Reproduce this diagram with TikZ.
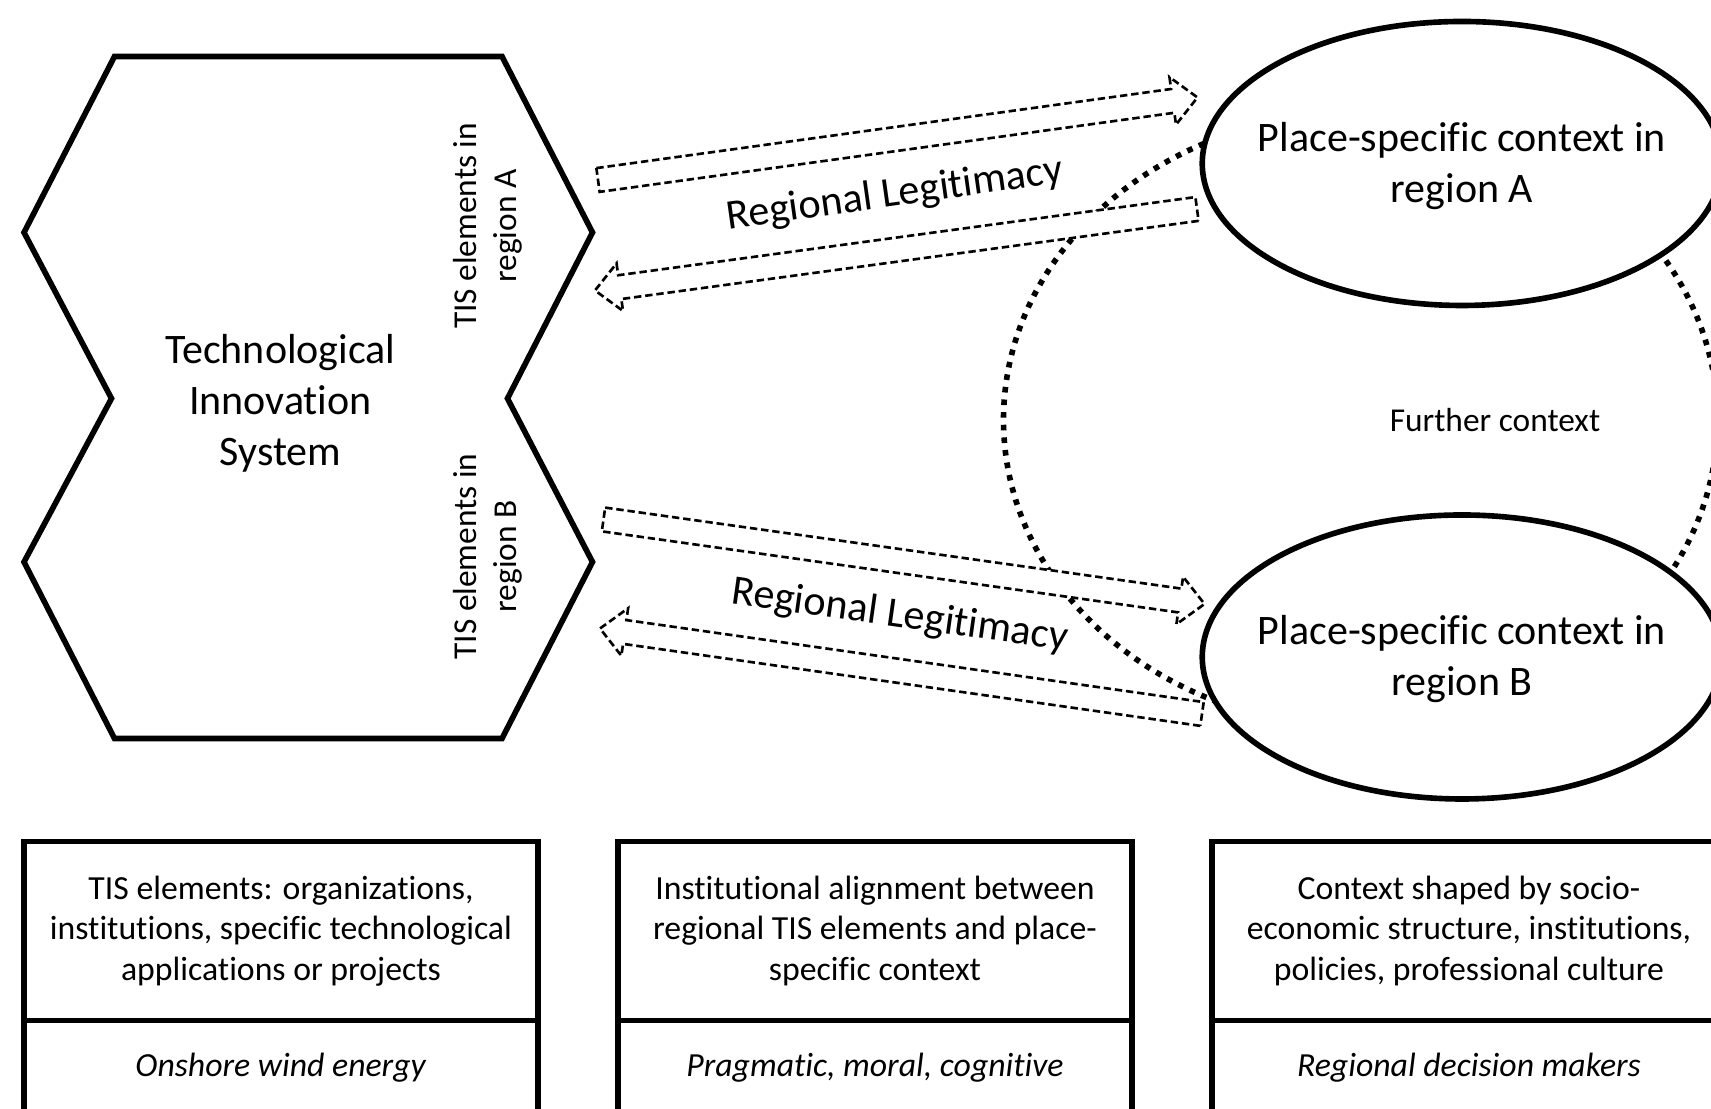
\documentclass[tikz,border=0pt]{standalone}
\usepackage{fontspec}
\setmainfont{Carlito}[Ligatures=NoCommon]
\usetikzlibrary{positioning,calc,shapes.geometric}

\newcommand{\ctxfont}{\fontsize{23.9}{29}\selectfont}
\newcommand{\rotfont}{\fontsize{19}{23}\selectfont}
\newcommand{\legfont}{\fontsize{24}{29}\selectfont}
\newcommand{\infofont}{\fontsize{19.2}{23.2}\selectfont}

\tikzset{
  bold/.style={line width=3.2pt, line join=miter},
  legline/.style={draw, fill=white, line width=1.5pt, dash pattern=on 4.2pt off 2.2pt, line join=miter},
  infobox/.style={draw, bold, outer sep=0pt, minimum width=10.28cm, align=center, font=\infofont},
}

% block arrow with dashed outline: #1 tail, #2 tip
\newcommand{\legarrow}[2]{%
  \coordinate (hb) at ($(#2)!0.5cm!(#1)$);
  \path[legline] ($(#1)!0.24cm!90:(#2)$) -- ($(hb)!0.24cm!90:(#2)$) -- ($(hb)!0.48cm!90:(#2)$) -- (#2)
    -- ($(hb)!0.48cm!-90:(#2)$) -- ($(hb)!0.24cm!-90:(#2)$) -- ($(#1)!0.24cm!-90:(#2)$) -- cycle;
}

\begin{document}
\begin{tikzpicture}
\useasboundingbox (0,0) rectangle (34.22,22.18);
\clip (0,0) rectangle (34.22,22.18);

% further context
\draw[line width=3.2pt, dash pattern=on 3.2pt off 4pt] (27.21,13.78) ellipse [x radius=7.14, y radius=6.15];
\node[font=\fontsize{19}{23}\selectfont] (further) at (29.9,13.78) {Further context};

% TIS
\draw[bold] (2.29,21.05) -- (10.04,21.05) -- (11.85,17.53) -- (10.15,14.21) -- (11.85,10.94)
  -- (10.04,7.41) -- (2.29,7.41) -- (0.48,10.94) -- (2.23,14.21) -- (0.48,17.53) -- cycle;
\node[align=center, font=\ctxfont] (tis) at (5.61,14.12) {Technological\\Innovation\\System};
\node[rotate=90, align=center, font=\rotfont] (tisA) at (9.76,17.66) {TIS elements in\\region A};
\node[rotate=90, align=center, font=\rotfont] (tisB) at (9.76,11.05) {TIS elements in\\region B};

% legitimacy arrows
\coordinate (a1t) at (11.96,18.58); \coordinate (a1h) at (23.95,20.23);
\coordinate (a2t) at (23.94,18.00); \coordinate (a2h) at (11.90,16.37);
\coordinate (b1t) at (12.07,11.79); \coordinate (b1h) at (24.09,10.10);
\coordinate (b2t) at (24.04,7.90);  \coordinate (b2h) at (12.00,9.61);
\legarrow{a1t}{a1h}
\legarrow{a2t}{a2h}
\legarrow{b1t}{b1h}
\legarrow{b2t}{b2h}
\node[rotate=8, font=\legfont] (legA) at (17.9,18.28) {Regional Legitimacy};
\node[rotate=-8, font=\legfont] (legB) at (18.0,9.86) {Regional Legitimacy};

% place-specific context
\node[ellipse, draw, bold, fill=white, minimum width=10.39cm, minimum height=5.68cm] (ctxA) at (29.24,18.91) {};
\node[align=center, font=\ctxfont] at ([yshift=-0.05cm]ctxA) {Place-specific context in\\region A};
\node[ellipse, draw, bold, fill=white, minimum width=10.39cm, minimum height=5.68cm] (ctxB) at (29.24,9.04) {};
\node[align=center, font=\ctxfont] at ([yshift=-0.05cm]ctxB) {Place-specific context in\\region B};

% legend boxes
\node[infobox, minimum height=3.58cm] (descT) at (5.62,3.56) {TIS elements: organizations,\\institutions, specific technological\\applications or projects};
\node[infobox, minimum height=1.88cm, below=0pt of descT] (exT) {\textit{Onshore wind energy}};
\node[infobox, minimum height=3.58cm, right=1.6cm of descT] (descL) {Institutional alignment between\\regional TIS elements and place-\\specific context};
\node[infobox, minimum height=1.88cm, below=0pt of descL] (exL) {\textit{Pragmatic, moral, cognitive}};
\node[infobox, minimum height=3.58cm, right=1.6cm of descL] (descC) {Context shaped by socio-\\economic structure, institutions,\\policies, professional culture};
\node[infobox, minimum height=1.88cm, below=0pt of descC] (exC) {\textit{Regional decision makers}};

\end{tikzpicture}
\end{document}
